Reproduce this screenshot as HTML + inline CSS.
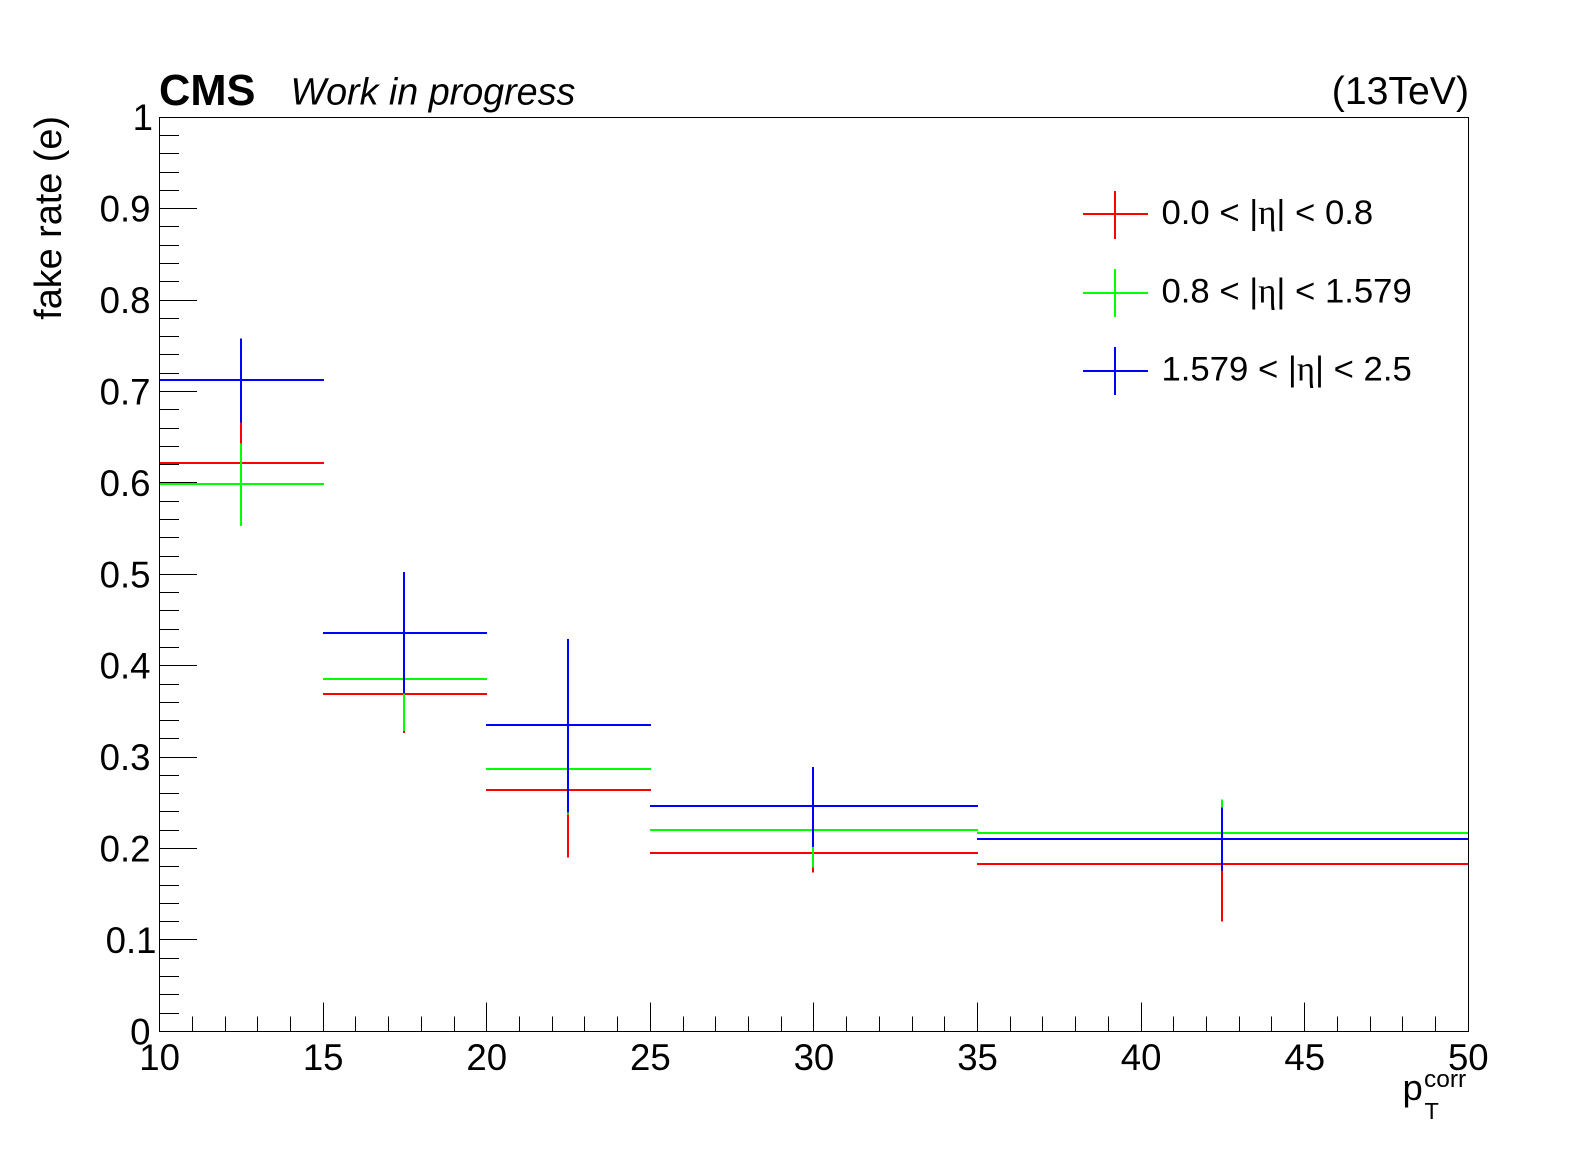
<!DOCTYPE html>
<html lang="en">
<head>
<meta charset="utf-8">
<title>Fake rate (e) vs pT corr</title>
<style>
html,body{margin:0;padding:0;background:#fff;}
svg{display:block;font-family:"Liberation Sans",sans-serif;fill:#000;}
</style>
</head>
<body>
<svg id="chart" xmlns="http://www.w3.org/2000/svg" width="1596" height="1172" viewBox="0 0 1596 1172">
  <rect x="0" y="0" width="1596" height="1172" fill="#fff"/>
  <g id="axes" shape-rendering="crispEdges" stroke="#000" stroke-width="1" fill="none"></g>
  <g id="marks" shape-rendering="crispEdges" stroke-width="2" fill="none"></g>
  <g id="labels" font-size="36.6"></g>

  <rect x="159.5" y="117.5" width="1309" height="914" fill="none" stroke="#000" stroke-width="1" shape-rendering="crispEdges"/>

  <text x="159" y="105" font-size="43.4" font-weight="bold">CMS</text>
  <text x="290.5" y="104.5" font-size="37.7" font-style="italic">Work in progress</text>
  <text x="1469" y="104" font-size="39.2" text-anchor="end">(13TeV)</text>

  <text transform="translate(61,116) rotate(-90)" font-size="37.8" text-anchor="end">fake rate (e)</text>

  <g>
    <text x="1402.5" y="1100" font-size="36.5">p</text>
    <text x="1424" y="1087" font-size="24.5">corr</text>
    <text x="1424.5" y="1119" font-size="23.5">T</text>
  </g>

  <g>
    <g shape-rendering="crispEdges">
      <line x1="1083" x2="1148" y1="214" y2="214" stroke="#ff0000" stroke-width="2"/>
      <line x1="1115" x2="1115" y1="191" y2="239" stroke="#ff0000" stroke-width="2"/>
    </g>
    <text x="1161.5" y="224" font-size="34.7" xml:space="preserve">0.0 &lt; |<tspan font-family="'Liberation Serif',serif">η</tspan>| &lt; 0.8</text>
    <g shape-rendering="crispEdges">
      <line x1="1083" x2="1148" y1="293" y2="293" stroke="#00ff00" stroke-width="2"/>
      <line x1="1115" x2="1115" y1="269" y2="317" stroke="#00ff00" stroke-width="2"/>
    </g>
    <text x="1161.5" y="302.5" font-size="34.7" xml:space="preserve">0.8 &lt; |<tspan font-family="'Liberation Serif',serif">η</tspan>| &lt; 1.579</text>
    <g shape-rendering="crispEdges">
      <line x1="1083" x2="1148" y1="371" y2="371" stroke="#0000ff" stroke-width="2"/>
      <line x1="1115" x2="1115" y1="347" y2="395" stroke="#0000ff" stroke-width="2"/>
    </g>
    <text x="1161.5" y="380.5" font-size="34.7" xml:space="preserve">1.579 &lt; |<tspan font-family="'Liberation Serif',serif">η</tspan>| &lt; 2.5</text>
  </g>
</svg>

<script>
// Chart data
const binLow = [10, 15, 20, 25, 35];
const binHigh = [15, 20, 25, 35, 50];

const redValues = [0.6217, 0.369, 0.264, 0.1951, 0.1831];
const redUp = [0.0505, 0.05, 0.074, 0.05, 0.06];
const redDown = [0.0505, 0.0426, 0.074, 0.0214, 0.0631];

const greenValues = [0.5988, 0.3855, 0.287, 0.2203, 0.217];
const greenUp = [0.0442, 0.059, 0.05, 0.041, 0.0364];
const greenDown = [0.0458, 0.0569, 0.05, 0.0408, 0.0364];

const blueValues = [0.7125, 0.4358, 0.335, 0.2466, 0.2104];
const blueUp = [0.0453, 0.0667, 0.094, 0.0424, 0.0343];
const blueDown = [0.0465, 0.066, 0.0958, 0.0451, 0.0346];

const xTickLabels = ['10', '15', '20', '25', '30', '35', '40', '45', '50'];
const yTickLabels = ['0', '0.1', '0.2', '0.3', '0.4', '0.5', '0.6', '0.7', '0.8', '0.9', '1'];

// Axis functions
const plotLeft = 159.6, plotRight = 1468.3, plotTop = 117.2, plotBottom = 1031.4;
const xMin = 10, xMax = 50, yMin = 0, yMax = 1;
function xScale(v) { return plotLeft + (v - xMin) / (xMax - xMin) * (plotRight - plotLeft); }
function yScale(v) { return plotBottom - (v - yMin) / (yMax - yMin) * (plotBottom - plotTop); }

const NS = 'http://www.w3.org/2000/svg';
const axes = document.getElementById('axes');
const marks = document.getElementById('marks');
const labels = document.getElementById('labels');

function makeLine(x1, y1, x2, y2) {
  const l = document.createElementNS(NS, 'line');
  l.setAttribute('x1', x1);
  l.setAttribute('y1', y1);
  l.setAttribute('x2', x2);
  l.setAttribute('y2', y2);
  return l;
}
function makeText(str, x, y, anchor) {
  const t = document.createElementNS(NS, 'text');
  t.setAttribute('x', x);
  t.setAttribute('y', y);
  t.setAttribute('text-anchor', anchor);
  t.textContent = str;
  return t;
}

// X ticks: major every 5, minor every 1
for (let v = xMin; v <= xMax; v++) {
  if (v === xMin || v === xMax) continue;
  const major = v % 5 === 0;
  const x = Math.floor(xScale(v)) + 0.5;
  const tick = makeLine(x, plotBottom, x, plotBottom - (major ? 29 : 15));
  
  
  axes.appendChild(tick);
}

// Y ticks: major every 0.1, minor every 0.02
for (let i = 1; i < 50; i++) {
  const major = i % 5 === 0;
  const y = Math.floor(yScale(i / 50)) + 0.5;
  const tick = makeLine(plotLeft, y, plotLeft + (major ? 37.6 : 19.6), y);
  
  
  axes.appendChild(tick);
}

// Labels ending in a bare "1" sit closer to the axis in the reference font
function labelNudge(label) {
  if (label === '0.1') return 6;
  if (label === '1') return 2.5;
  return 0;
}

// Tick labels
xTickLabels.forEach(function (label) {
  const t = makeText(label, xScale(Number(label)), 1070, 'middle');
  
  
  labels.appendChild(t);
});
yTickLabels.forEach(function (label) {
  const t = makeText(label, 150.5 + labelNudge(label), yScale(Number(label)) + 13, 'end');
  
  
  labels.appendChild(t);
});

// Series
function drawSeries(seriesName, color, values, up, down) {
  const group = document.createElementNS(NS, 'g');
  
  
  group.setAttribute('stroke', color);
  values.forEach(function (value, i) {
    const center = (binLow[i] + binHigh[i]) / 2;
    const y = Math.round(yScale(value));
    const h = makeLine(Math.floor(xScale(binLow[i])), y, Math.floor(xScale(binHigh[i])) + 1, y);
    
    
    group.appendChild(h);
    const cx = Math.floor(xScale(center));
    const v = makeLine(cx, yScale(value + up[i]), cx, yScale(value - down[i]));
    
    
    group.appendChild(v);
  });
  marks.appendChild(group);
}
drawSeries('series-eta-0-0.8', '#ff0000', redValues, redUp, redDown);
drawSeries('series-eta-0.8-1.579', '#00ff00', greenValues, greenUp, greenDown);
drawSeries('series-eta-1.579-2.5', '#0000ff', blueValues, blueUp, blueDown);
</script>
</body>
</html>
